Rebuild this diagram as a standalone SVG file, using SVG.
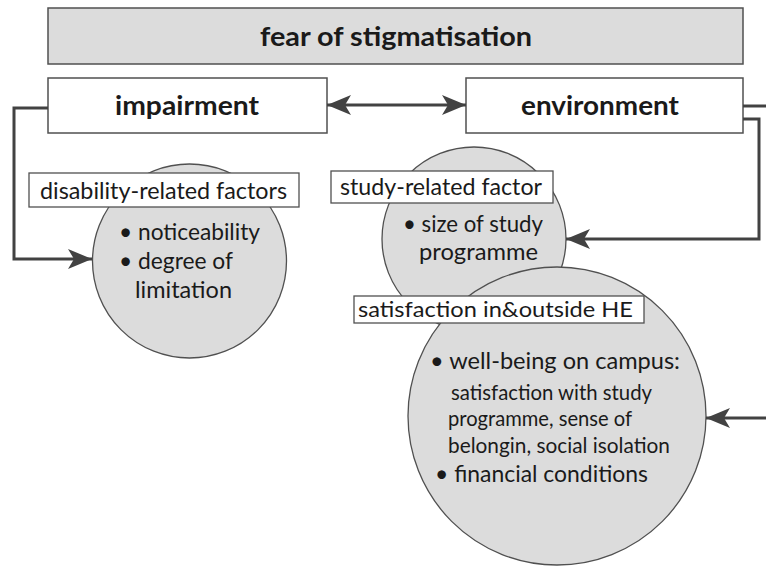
<svg xmlns="http://www.w3.org/2000/svg" width="766" height="566" viewBox="0 0 766 566">
  <style>
    .box { fill: #ffffff; stroke: #505050; stroke-width: 1.5; }
    .head { fill: #dcdcdc; stroke: #505050; stroke-width: 1.5; }
    .bubble { fill: #dcdcdc; stroke: #505050; stroke-width: 1.3; }
    .tag { fill: #ffffff; stroke: #505050; stroke-width: 1.3; }
    .bold { font-family: Lato, "Open Sans", sans-serif; font-weight: bold; fill: #1a1a1a; }
    .txt { font-family: Lato, "Open Sans", sans-serif; fill: #1a1a1a; }
    .link { fill: none; stroke: #424242; stroke-width: 3; }
  </style>
  <defs>
    <marker id="arrow" markerUnits="userSpaceOnUse" markerWidth="26" markerHeight="22" refX="24" refY="10" orient="auto-start-reverse" viewBox="0 0 26 22">
      <path d="M0,0 L24,10 L0,20 L6,10 Z" fill="#424242"/>
    </marker>
  </defs>

  <!-- heading -->
  <g id="fear">
    <rect class="head" x="48" y="8" width="695" height="56"/>
    <text class="bold" x="260" y="46" font-size="27" textLength="272" lengthAdjust="spacingAndGlyphs">fear of stigmatisation</text>
  </g>

  <g id="impairment">
    <rect class="box" x="48" y="78" width="279" height="55"/>
    <text class="bold" x="115" y="115" font-size="26" textLength="144" lengthAdjust="spacingAndGlyphs">impairment</text>
  </g>

  <g id="environment">
    <rect class="box" x="466" y="78" width="277" height="55"/>
    <text class="bold" x="521" y="115" font-size="26" textLength="158" lengthAdjust="spacingAndGlyphs">environment</text>
  </g>

  <!-- disability-related factors -->
  <g id="disability">
    <circle class="bubble" cx="189.5" cy="261" r="97"/>
    <rect class="tag" x="29" y="173" width="270" height="34"/>
    <text class="txt" x="40" y="199" font-size="23" textLength="247" lengthAdjust="spacingAndGlyphs">disability-related factors</text>
    <text class="txt" x="119" y="240" font-size="24" textLength="141" lengthAdjust="spacingAndGlyphs">• noticeability</text>
    <text class="txt" x="119" y="269" font-size="24" textLength="114" lengthAdjust="spacingAndGlyphs">• degree of</text>
    <text class="txt" x="135" y="298" font-size="24" textLength="97" lengthAdjust="spacingAndGlyphs">limitation</text>
  </g>

  <!-- study-related factor -->
  <g id="study">
    <circle class="bubble" cx="474" cy="239" r="92"/>
  </g>

  <!-- satisfaction in & outside HE -->
  <g id="satisfaction">
    <circle class="bubble" cx="557" cy="416" r="149"/>
    <text class="txt" x="430" y="369" font-size="24" textLength="250" lengthAdjust="spacingAndGlyphs">• well-being on campus:</text>
    <text class="txt" x="451" y="400" font-size="21" textLength="201" lengthAdjust="spacingAndGlyphs">satisfaction with study</text>
    <text class="txt" x="448" y="426" font-size="21" textLength="184" lengthAdjust="spacingAndGlyphs">programme, sense of</text>
    <text class="txt" x="448" y="453" font-size="21" textLength="222" lengthAdjust="spacingAndGlyphs">belongin, social isolation</text>
    <text class="txt" x="435" y="482" font-size="24" textLength="213" lengthAdjust="spacingAndGlyphs">• financial conditions</text>
  </g>

  <g id="study-labels">
    <rect class="tag" x="331" y="171" width="222" height="32"/>
    <text class="txt" x="340" y="195" font-size="23" textLength="202" lengthAdjust="spacingAndGlyphs">study-related factor</text>
    <text class="txt" x="403" y="232" font-size="23" textLength="140" lengthAdjust="spacingAndGlyphs">• size of study</text>
    <text class="txt" x="419" y="260" font-size="23" textLength="119" lengthAdjust="spacingAndGlyphs">programme</text>
  </g>

  <g id="satisfaction-label">
    <rect class="tag" x="354" y="296" width="290" height="27"/>
    <text class="txt" x="358" y="317" font-size="22" textLength="275" lengthAdjust="spacingAndGlyphs">satisfaction in&amp;outside HE</text>
  </g>

  <!-- connectors -->
  <g id="connectors">
    <line class="link" x1="327" y1="105" x2="466" y2="105" marker-start="url(#arrow)" marker-end="url(#arrow)"/>
    <path class="link" d="M48,108 H14 V259 H92" marker-end="url(#arrow)"/>
    <path class="link" d="M743,106 H766"/>
    <path class="link" d="M743,119 H759 V239 H566" marker-end="url(#arrow)"/>
    <path class="link" d="M766,418 H706" marker-end="url(#arrow)"/>
  </g>
</svg>
